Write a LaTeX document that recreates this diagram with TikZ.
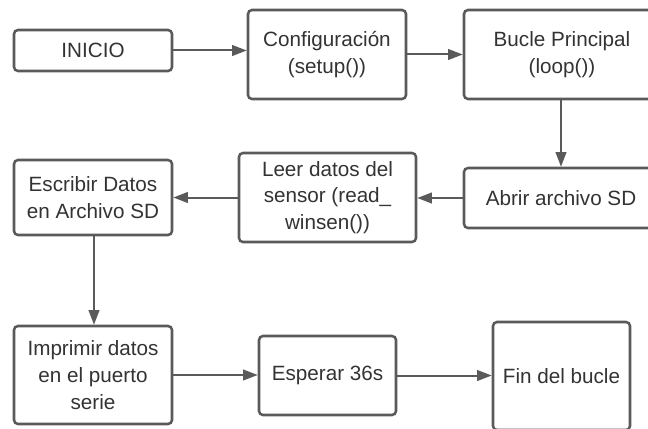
\documentclass[tikz,border=0pt]{standalone}
\usepackage{fontspec}
\setmainfont{Liberation Sans}
\usetikzlibrary{arrows.meta}
\definecolor{edge}{HTML}{5A5A5A}
\definecolor{txt}{HTML}{333333}
\begin{document}
\begin{tikzpicture}[x=0.75pt,y=-0.75pt,
  stepbox/.style={draw=edge, line width=1.9pt, rounded corners=3pt, fill=white,
    text=txt, align=center, inner sep=0pt,
    font=\fontsize{15.5pt}{20pt}\selectfont},
  link/.style={draw=edge, line width=1.5pt, -{Triangle[length=11pt,width=8pt]}}]
\useasboundingbox (0,0) rectangle (648,428);
\node[stepbox, minimum width=118.5pt, minimum height=30.75pt] (inicio) at (93,50.5) {INICIO};
\node[stepbox, minimum width=118.5pt, minimum height=66.75pt] (config) at (327,54.5) {Configuración\\(setup())};
\node[stepbox, minimum width=147pt, minimum height=66.75pt] (bucle) at (562,54.5) {Bucle Principal\\(loop())};
\node[stepbox, minimum width=145.5pt, minimum height=45pt] (abrir) at (561,198) {Abrir archivo SD};
\node[stepbox, minimum width=132.75pt, minimum height=66.75pt] (leer) at (327.5,197.5) {Leer datos del\\sensor (read\_\\winsen())};
\node[stepbox, minimum width=118.5pt, minimum height=56.25pt] (escribir) at (93,197.5) {Escribir Datos\\en Archivo SD};
\node[stepbox, minimum width=118.5pt, minimum height=73.5pt] (imprimir) at (93,375) {Imprimir datos\\en el puerto\\serie};
\node[stepbox, minimum width=102.75pt, minimum height=59.25pt] (esperar) at (327.5,375.5) {Esperar 36s};
\node[stepbox, minimum width=102.75pt, minimum height=81pt] (fin) at (561.5,376) {Fin del bucle};
\path[link] (inicio.east) -- (inicio.east -| config.west);
\path[link] (config.east) -- (config.east -| bucle.west);
\path[link] (bucle.south -| 561,0) -- (abrir.north -| 561,0);
\path[link] (abrir.west) -- (abrir.west -| leer.east);
\path[link] (leer.west) -- (leer.west -| escribir.east);
\path[link] (escribir.south -| 94,0) -- (imprimir.north -| 94,0);
\path[link] (imprimir.east) -- (imprimir.east -| esperar.west);
\path[link] (esperar.east) -- (esperar.east -| fin.west);
\end{tikzpicture}
\end{document}
